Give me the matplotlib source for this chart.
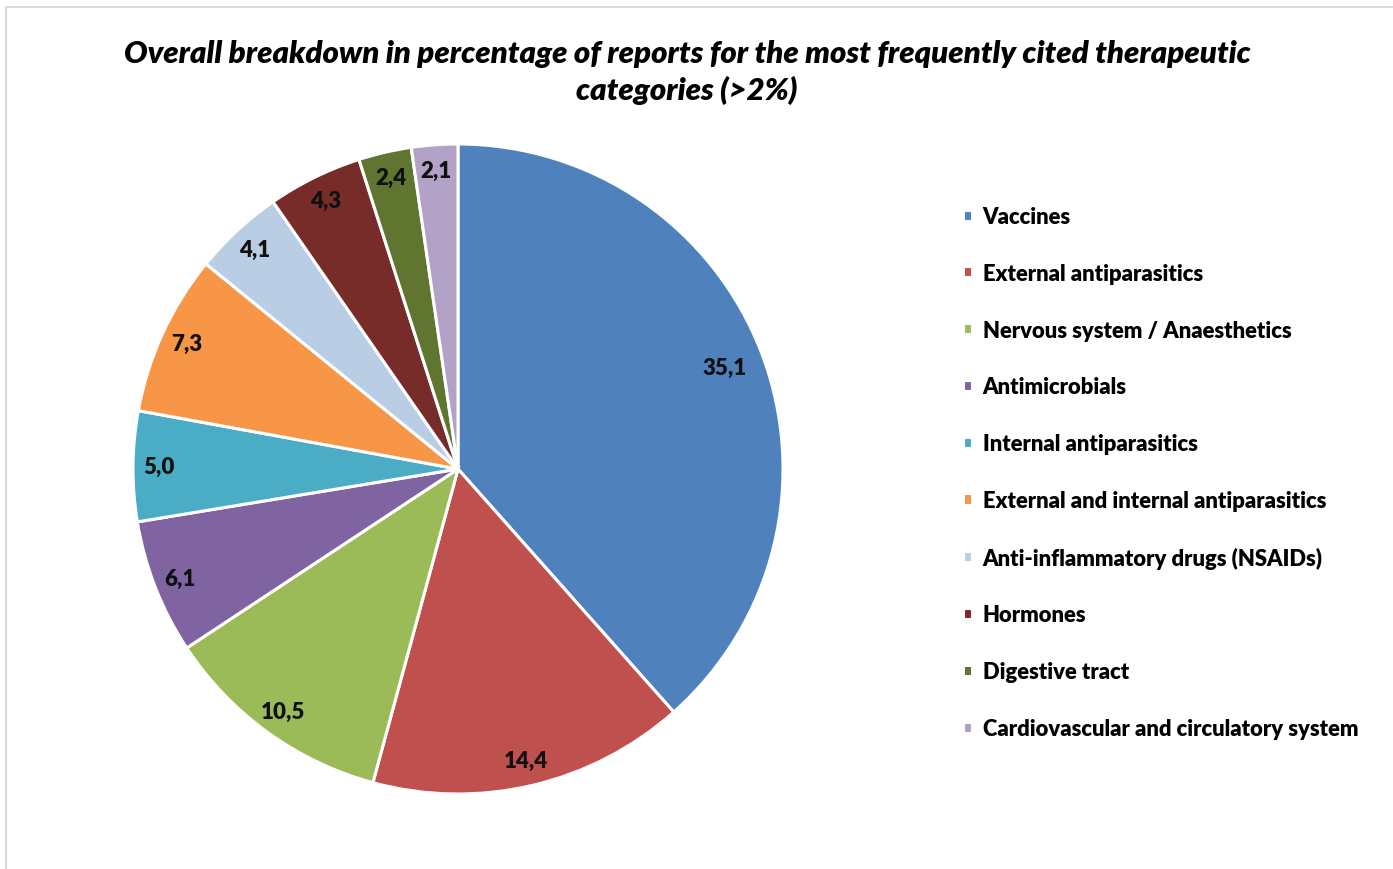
import matplotlib
matplotlib.use("Agg")
import matplotlib.pyplot as plt
from matplotlib.patches import Rectangle

categories = ["Vaccines", "External antiparasitics", "Nervous system / Anaesthetics",
              "Antimicrobials", "Internal antiparasitics", "External and internal antiparasitics",
              "Anti-inflammatory drugs (NSAIDs)", "Hormones", "Digestive tract",
              "Cardiovascular and circulatory system"]
values = [35.1, 14.4, 10.5, 6.1, 5.0, 7.3, 4.1, 4.3, 2.4, 2.1]
colors = ["#4F81BD", "#C0504D", "#9BBB59", "#8064A2", "#4BACC6", "#F79646",
          "#B9CDE5", "#772C2A", "#5F7530", "#B3A2C7"]

plt.rcParams['font.family'] = ['Lato', 'DejaVu Sans']

fig = plt.figure(figsize=(13.93, 8.70), dpi=100)

# chart frame (Excel style), only left/top edges visible
fig.patches.append(Rectangle((6/1393, -0.05), 1.1, 1 - 8/870 + 0.05, transform=fig.transFigure,
                             fill=False, edgecolor="#D9D9D9", linewidth=1.5))

ax = fig.add_axes([(458-325)/1393, (870-470-325)/870, 650/1393, 650/870])
lbls = [("%.1f" % v).replace(".", ",") for v in values]
wedges, texts = ax.pie(values, labels=lbls, colors=colors, startangle=90, counterclock=False,
                       labeldistance=0.92,
                       wedgeprops=dict(edgecolor="white", linewidth=2.2),
                       textprops=dict(fontsize=16, fontweight="heavy", color="#111111"))
for t in texts:
    t.set_ha("center")
    t.set_va("center")
# big slice label sits a bit further in
x0, y0 = texts[0].get_position()
texts[0].set_position((x0 * 0.955, y0 * 0.955))
ax.set_xlim(-1, 1)
ax.set_ylim(-1, 1)
ax.set_aspect("equal")

fig.text(687/1393, 1 - 72.5/870,
         "Overall breakdown in percentage of reports for the most frequently cited therapeutic\ncategories (>2%)",
         ha="center", va="center", fontsize=22.4, fontweight="heavy", fontstyle="italic",
         linespacing=1.35, color="#000000")

fig.legend(wedges, categories, loc="upper left", bbox_to_anchor=(963/1393, 1 - 207/870),
           frameon=False, handlelength=0.4, handleheight=0.4,
           handletextpad=0.5, labelspacing=1.63, borderpad=0, borderaxespad=0,
           prop=dict(weight="heavy", size=15.8))

fig.savefig("out.png", dpi=100)
